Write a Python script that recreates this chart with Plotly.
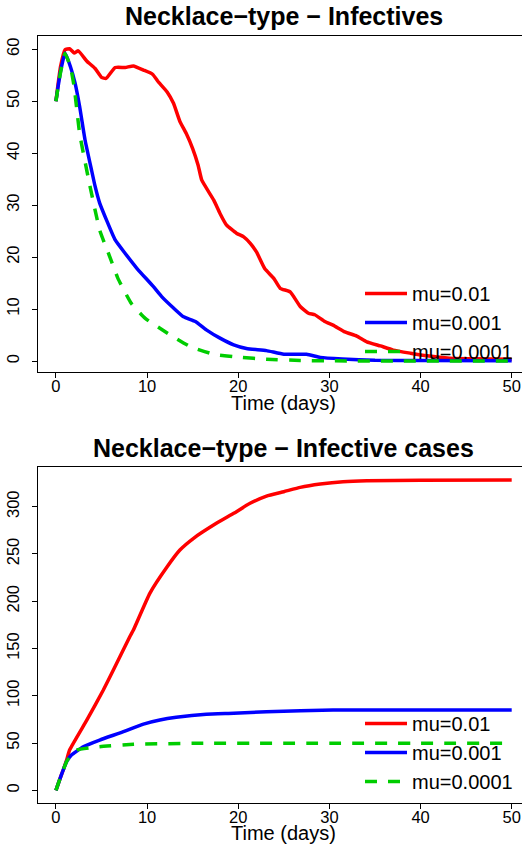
import plotly.graph_objects as go

# ---------------- data ----------------
series_names = ["mu=0.01", "mu=0.001", "mu=0.0001"]
series_colors = ["#ff0000", "#0000ff", "#00cd00"]

# Top panel: Infectives
inf_red_t = [0, 0.5, 1, 1.5, 2, 2.45, 3.4, 4.3, 5.0, 5.5, 6.5, 7.6, 8.5, 9.6, 10.6, 11.2,
             12.2, 12.9, 13.6, 14.3, 15.0, 15.6, 16.0, 17.3, 18.0, 18.7, 19.8, 20.6, 21.3,
             22.0, 22.9, 23.9, 24.6, 25.7, 26.8, 27.7, 28.4, 29.5, 30.4, 31.7, 33.0, 34.1,
             35.6, 37.0, 38.9, 40.7, 43.2, 46.0, 50.0]
inf_red_v = [50, 56.6, 59.9, 60.1, 59.3, 59.7, 57.7, 56.3, 54.6, 54.4, 56.5, 56.5, 56.8, 56.0,
             55.2, 53.8, 51.8, 49.6, 46.1, 43.8, 40.9, 37.7, 34.8, 31.0, 28.4, 26.2, 24.6,
             23.9, 22.7, 21.0, 17.8, 15.9, 14.0, 13.3, 10.5, 9.2, 8.9, 7.6, 6.9, 5.6, 4.8,
             3.7, 2.9, 2.1, 1.5, 1.0, 0.55, 0.45, 0.35]

inf_blue_t = [0, 0.5, 1.0, 1.6, 2.1, 2.6, 3.2, 3.9, 4.3, 4.8, 6.5, 7.6, 8.9, 10.7, 11.6, 12.9,
              14.0, 15.3, 16.5, 18.0, 19.5, 20.9, 23.1, 25.0, 27.5, 29.0, 31.4, 35.0, 40.0, 50.0]
inf_blue_v = [50, 55.7, 59.3, 56.6, 53.5, 49.0, 42.5, 36.8, 33.6, 30.4, 23.3, 20.7, 17.8, 14.3,
              12.4, 10.2, 8.5, 7.6, 6.0, 4.4, 3.1, 2.4, 2.0, 1.3, 1.3, 0.7, 0.4, 0.15, 0.08, 0.05]

inf_green_t = [0, 0.5, 1.0, 1.6, 2.0, 2.6, 3.6, 4.8, 5.9, 6.8, 8.3, 9.8, 12.2, 14.7, 17.3,
               20.2, 23.1, 26.8, 30.0, 50.0]
inf_green_v = [50, 55.5, 59.2, 56.6, 52.8, 43.8, 34.8, 25.2, 20.1, 15.9, 11.0, 8.2, 5.4, 2.8,
               1.3, 0.7, 0.35, 0.1, 0.03, 0.0]

# Bottom panel: Infective cases (cumulative)
cas_red_t = [0, 0.4, 0.8, 1.17, 1.5, 3.4, 5.2, 6.3, 8.1, 8.5, 10.3, 12.2, 13.6, 15.1, 17.6,
             19.5, 21.3, 23.1, 25.0, 26.8, 29.0, 31.5, 34.1, 40.0, 50.0]
cas_red_v = [0, 11, 21.5, 32, 42.6, 74.4, 106.1, 127.3, 162.5, 169.6, 208.4, 236.5, 254.2,
             266.6, 282.4, 293.0, 303.6, 311.3, 315.9, 320.5, 324.0, 326.5, 327.5, 328.0, 328.3]

cas_blue_t = [0, 0.4, 0.8, 1.17, 1.7, 3.0, 4.8, 7.4, 9.6, 11.4, 13.2, 16.5, 19.5, 23.1, 30.4, 50.0]
cas_blue_v = [0, 11, 21.5, 30.3, 37.3, 46.1, 53.2, 62.0, 70.1, 74.4, 77.2, 80.4, 81.5, 83.2,
              84.9, 84.9]

cas_green_t = [0, 0.4, 0.8, 1.2, 1.7, 2.3, 4.8, 8.5, 15.0, 50.0]
cas_green_v = [0, 11, 21.5, 31, 37.5, 42.6, 46.1, 48.7, 49.7, 49.7]

x_ticks = [0, 10, 20, 30, 40, 50]
top_y_ticks = [0, 10, 20, 30, 40, 50, 60]
bot_y_ticks = [0, 50, 100, 150, 200, 250, 300]

title_top = "Necklace\u2212type \u2212 Infectives"
title_bot = "Necklace\u2212type \u2212 Infective cases"
x_title = "Time (days)"

# ---------------- figure ----------------
W, H = 522, 849
FONT = "Liberation Sans, Arial, Helvetica, sans-serif"


def px_y(p):
    return (H - p) / H


fig = go.Figure()

top_data = [(inf_red_t, inf_red_v), (inf_blue_t, inf_blue_v), (inf_green_t, inf_green_v)]
bot_data = [(cas_red_t, cas_red_v), (cas_blue_t, cas_blue_v), (cas_green_t, cas_green_v)]
dashes = ["solid", "solid", "12px,11px"]

for i, (t, v) in enumerate(top_data):
    fig.add_trace(go.Scatter(x=t, y=v, mode="lines", name=series_names[i],
                             line=dict(color=series_colors[i], width=3.5, dash=dashes[i],
                                       shape="spline", smoothing=0.4),
                             xaxis="x", yaxis="y", legend="legend"))
for i, (t, v) in enumerate(bot_data):
    fig.add_trace(go.Scatter(x=t, y=v, mode="lines", name=series_names[i],
                             line=dict(color=series_colors[i], width=3.5, dash=dashes[i],
                                       shape="spline", smoothing=0.4),
                             xaxis="x2", yaxis="y2", legend="legend2"))

x_left = 37.7
x_dom = [x_left / W, 1.0]
x_range = [-2.0, 51.13]

axis_common = dict(showgrid=False, zeroline=False, showline=True, linecolor="black",
                   linewidth=1, ticks="outside", ticklen=5, tickcolor="black",
                   automargin=False,
                   tickfont=dict(family=FONT, size=16.5, color="black"))

title_font = dict(family=FONT, size=25, weight="bold", color="black")
xt_font = dict(family=FONT, size=20, color="black")
leg_common = dict(xanchor="left", yanchor="top", bgcolor="rgba(0,0,0,0)",
                  font=dict(family=FONT, size=20, color="black"),
                  itemwidth=42, tracegroupgap=0, traceorder="normal")

fig.update_layout(
    width=W, height=H,
    margin=dict(l=0, r=0, t=0, b=0, autoexpand=False),
    paper_bgcolor="white", plot_bgcolor="white",
    font=dict(family=FONT, color="black"),
    xaxis=dict(domain=x_dom, range=x_range, anchor="y", tickvals=x_ticks, mirror=True,
               ticklabelstandoff=-6, **axis_common),
    yaxis=dict(domain=[px_y(371.7), px_y(36)], range=[-2.06, 62.56], anchor="x",
               tickvals=top_y_ticks, tickangle=-90, ticklabelstandoff=6, **axis_common),
    xaxis2=dict(domain=x_dom, range=x_range, anchor="y2", tickvals=x_ticks, mirror=True,
                ticklabelstandoff=-6, **axis_common),
    yaxis2=dict(domain=[px_y(802.7), px_y(467.3)], range=[-13.1, 341.7], anchor="x2",
                tickvals=bot_y_ticks, tickangle=-90, ticklabelstandoff=6, **axis_common),
    legend=dict(x=360 / W, y=px_y(274), **leg_common),
    legend2=dict(x=360 / W, y=px_y(704), **leg_common),
    showlegend=True,
    hovermode=False,
    annotations=[
        dict(text=title_top, x=283.9 / W, y=px_y(16), xref="paper", yref="paper",
             xanchor="center", yanchor="middle", showarrow=False, font=title_font),
        dict(text=title_bot, x=283.9 / W, y=px_y(447.5), xref="paper", yref="paper",
             xanchor="center", yanchor="middle", showarrow=False, font=title_font),
        dict(text=x_title, x=283.9 / W, y=px_y(403), xref="paper", yref="paper",
             xanchor="center", yanchor="middle", showarrow=False, font=xt_font),
        dict(text=x_title, x=283.9 / W, y=px_y(833), xref="paper", yref="paper",
             xanchor="center", yanchor="middle", showarrow=False, font=xt_font),
    ],
)

fig.write_html(
    "out.html",
    config={"displayModeBar": False},
    post_script="document.body.style.margin='0';document.body.style.overflow='hidden';",
)
